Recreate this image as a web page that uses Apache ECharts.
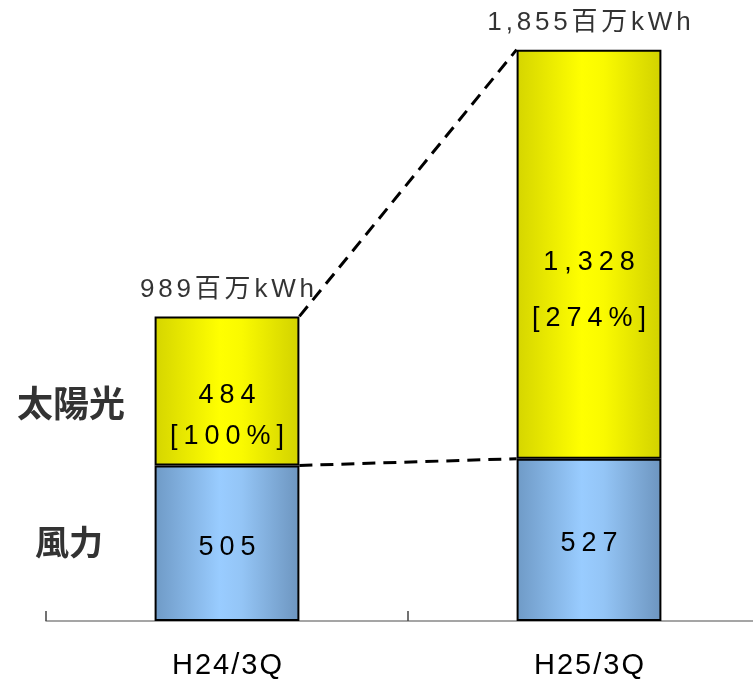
<!DOCTYPE html>
<html>
<head>
<meta charset="utf-8">
<script src="https://cdn.jsdelivr.net/npm/echarts@6/dist/echarts.min.js"></script>
<style>
  html, body { margin: 0; padding: 0; background: #fff; }
  #chart { width: 753px; height: 680px; }
</style>
</head>
<body>
<div id="chart"></div>
<script>
// 期間
const categories = ['H24/3Q', 'H25/3Q'];
// 風力・太陽光（百万kWh）
const windValues = [505, 527];
const solarValues = [484, 1328];
// 合計
const totalValues = [989, 1855];
// 太陽光の前年比
const solarPct = [100, 274];
const seriesNames = ['風力', '太陽光'];

const FONT = '"Liberation Sans", "Noto Sans CJK JP", sans-serif';
const BAR_RATIO = 0.4;

// 文字間隔を空けるため一文字ずつ rich トークンにする
function spaced(str, style) {
    return String(str).split('').map(ch => '{' + style + '|' + ch + '}').join('');
}
function fmt(v) {
    return v.toLocaleString('en-US');
}

const solarLineStyle = ['a', 'b'];
const solarOffsets = [25, 36];

const chart = echarts.init(document.getElementById('chart'));

const option = {
    animation: false,
    backgroundColor: '#fff',
    grid: { left: 46, width: 724, top: 5, bottom: 59, outerBoundsMode: 'none', containLabel: false },
    xAxis: {
        type: 'category',
        data: categories,
        axisLine: { lineStyle: { color: '#888', width: 1.5 } },
        axisTick: { show: true, alignWithLabel: false, inside: true, length: 10, lineStyle: { color: '#444', width: 1.5 } },
        axisLabel: {
            margin: 30,
            formatter: v => spaced(v, 'x'),
            rich: { x: { fontFamily: FONT, fontSize: 29, color: '#000', padding: [0, 1] } }
        }
    },
    yAxis: {
        type: 'value', min: 0, max: 2000, show: false,
        splitLine: { show: false }
    },
    graphic: [
        { type: 'text', left: 17, top: 385, style: { text: seriesNames[1], font: 'bold 36px "Noto Sans CJK JP"', fill: '#333' } },
        { type: 'text', left: 35, top: 525, style: { text: seriesNames[0], font: 'bold 34px "Noto Sans CJK JP"', fill: '#333' } }
    ],
    series: [
        {
            name: seriesNames[0],
            type: 'bar',
            stack: 'total',
            barWidth: (BAR_RATIO * 100) + '%',
            data: windValues,
            itemStyle: {
                borderColor: '#000', borderWidth: 2,
                color: new echarts.graphic.LinearGradient(0, 0, 1, 0, [
                    { offset: 0, color: '#6f9ac6' },
                    { offset: 0.45, color: '#99ccff' },
                    { offset: 0.6, color: '#94c5f6' },
                    { offset: 1, color: '#6d95bf' }
                ])
            },
            label: {
                show: true, position: 'inside', offset: [0, 4],
                formatter: p => spaced(fmt(p.value), 'n'),
                rich: { n: { fontFamily: FONT, fontSize: 27, color: '#000', padding: [0, 3] } }
            }
        },
        {
            name: seriesNames[1],
            type: 'bar',
            stack: 'total',
            data: solarValues.map((v, i) => ({ value: v, label: { offset: [0, solarOffsets[i]] } })),
            itemStyle: {
                borderColor: '#000', borderWidth: 2,
                color: new echarts.graphic.LinearGradient(0, 0, 1, 0, [
                    { offset: 0, color: '#d5d500' },
                    { offset: 0.45, color: '#ffff00' },
                    { offset: 0.6, color: '#fafa00' },
                    { offset: 1, color: '#d2d200' }
                ])
            },
            label: {
                show: true, position: 'inside',
                formatter: p => {
                    const s = solarLineStyle[p.dataIndex];
                    return spaced(fmt(p.value), s) + '\n' + spaced('[' + solarPct[p.dataIndex] + '%]', s);
                },
                rich: {
                    a: { fontFamily: FONT, fontSize: 27, color: '#000', padding: [0, 3], lineHeight: 41 },
                    b: { fontFamily: FONT, fontSize: 27, color: '#000', padding: [0, 3], lineHeight: 56 }
                }
            }
        },
        {
            // 合計ラベル
            type: 'scatter',
            data: totalValues,
            symbolSize: 0,
            silent: true,
            label: {
                show: true, position: 'top', distance: 14,
                formatter: p => spaced(fmt(p.value) + '百万kWh', 't'),
                rich: { t: { fontFamily: FONT, fontSize: 26, color: '#000', padding: [0, 1.9] } }
            },
            z: 3
        },
        {
            // 棒の間の破線
            type: 'custom',
            data: categories.slice(0, -1).map((c, i) => [i]),
            z: 5,
            renderItem: (params, api) => {
                const i = params.dataIndex;
                const half = api.size([1, 0])[0] * BAR_RATIO / 2;
                const a1 = api.coord([i, totalValues[i]]);
                const b1 = api.coord([i + 1, totalValues[i + 1]]);
                const a2 = api.coord([i, windValues[i]]);
                const b2 = api.coord([i + 1, windValues[i + 1]]);
                const style = { stroke: '#000', lineWidth: 3, lineDash: [13, 8], fill: null };
                return {
                    type: 'group',
                    children: [
                        { type: 'line', shape: { x1: a1[0] + half, y1: a1[1], x2: b1[0] - half, y2: b1[1] }, style },
                        { type: 'line', shape: { x1: a2[0] + half, y1: a2[1], x2: b2[0] - half, y2: b2[1] }, style }
                    ]
                };
            }
        }
    ]
};

chart.setOption(option);
</script>
</body>
</html>
